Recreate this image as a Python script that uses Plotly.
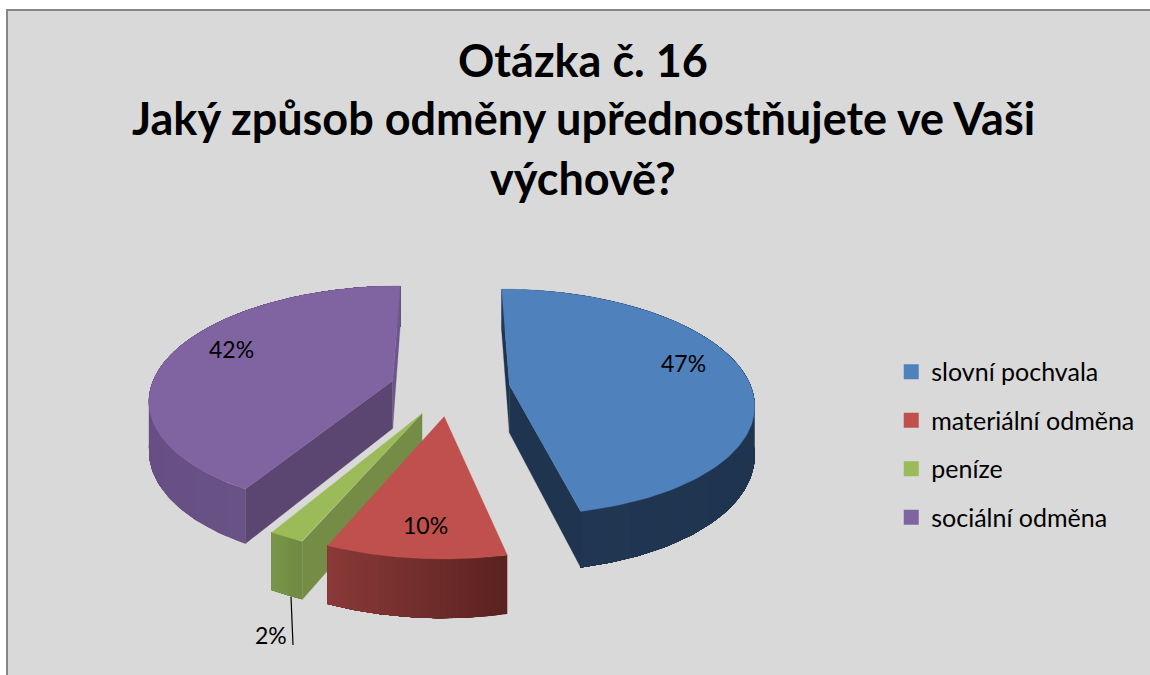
import numpy as np
import plotly.graph_objects as go

# ---- data ----
categories = ["slovní pochvala", "materiální odměna", "peníze", "sociální odměna"]
values = [47, 10, 2, 42]
labels = ["47%", "10%", "2%", "42%"]
title_lines = ["Otázka č. 16", "Jaký způsob odměny upřednostňujete ve Vaši", "výchově?"]

# ---- styles ----
top_colors = ["#4F81BD", "#C0504D", "#9BBB59", "#8064A2"]
rim_left = ["#26405F", "#8A3A38", "#7A9648", "#674F83"]
rim_right = ["#1F344F", "#5A2220", "#708A42", "#6C5889"]
rim_power = [0.22, 1.0, 1.0, 1.0]
wall_start = ["#1F344F", "#5A2220", "#748C46", "#5A4671"]
wall_end = ["#1F344F", "#5A2220", "#748C46", "#6D558C"]
BG = "#D9D9D9"
FONT = "Lato"

# projection of the tilted pie
XC, YC = 450.0, 388.0
R, EXPLODE, TILT, PERSP, DEPTH = 242.0, 60.0, 0.46, 1600.0, 48.0
label_xy = [(683, 363), (425, 525), (271, 635), (231, 349)]
leader = ((291, 597), (293, 645))


def project(X, Y, drop=0.0):
    X, Y = np.asarray(X, float), np.asarray(Y, float)
    s = PERSP / (PERSP + Y)
    return XC + X * s, YC - Y * TILT * s + drop * s


def hex_mix(a, b, t):
    ca = [int(a[i:i + 2], 16) for i in (1, 3, 5)]
    cb = [int(b[i:i + 2], 16) for i in (1, 3, 5)]
    return "rgb(%d,%d,%d)" % tuple(round(p + (q - p) * t) for p, q in zip(ca, cb))


def poly(fig, xs, ys, color, lw=0.3):
    fig.add_trace(go.Scatter(x=list(xs), y=list(ys), mode="lines", fill="toself",
                             fillcolor=color, line=dict(color=color, width=lw),
                             hoverinfo="skip", showlegend=False))


total = sum(values)
spans = []
a0 = 0.0
for v in values:
    spans.append((a0, a0 + v / total * 2 * np.pi))
    a0 += v / total * 2 * np.pi

fig = go.Figure()
for idx in [3, 0, 2, 1]:  # back to front
    t0, t1 = spans[idx]
    mid = (t0 + t1) / 2
    ox, oy = EXPLODE * np.sin(mid), EXPLODE * np.cos(mid)
    th = np.linspace(t0, t1, 121)
    Xr, Yr = ox + R * np.sin(th), oy + R * np.cos(th)
    tx, ty = project(Xr, Yr)
    bx, by = project(Xr, Yr, DEPTH)
    ax, ay = project(ox, oy)
    abx, aby = project(ox, oy, DEPTH)
    cx, cy = project(ox + 0.6 * R * np.sin(mid), oy + 0.6 * R * np.cos(mid))

    # radial cut walls, only those that face the viewer
    for k, col in ((0, wall_start[idx]), (-1, wall_end[idx])):
        ex, ey = tx[k] - ax, ty[k] - ay
        inner = ex * (cy - ay) - ey * (cx - ax)
        down = ex * DEPTH
        if inner * down < 0:
            poly(fig, [ax, tx[k], bx[k], abx, ax], [ay, ty[k], by[k], aby, ay], col)

    # outer rim, shaded across the screen; each band overlaps the rest of the rim
    xmin, xmax = tx.min(), tx.max()
    step = 4
    for i in range(0, len(th) - 1, step):
        j = min(i + step, len(th) - 1)
        f = (tx[i:j + 1].mean() - xmin) / max(xmax - xmin, 1)
        col = hex_mix(rim_left[idx], rim_right[idx], f ** rim_power[idx])
        xs = list(tx[i:]) + list(bx[i:][::-1]) + [tx[i]]
        ys = list(ty[i:]) + list(by[i:][::-1]) + [ty[i]]
        poly(fig, xs, ys, col, lw=0)

    # top face
    poly(fig, [ax] + list(tx) + [ax], [ay] + list(ty) + [ay], top_colors[idx])

# legend entries
for name, col in zip(categories, top_colors):
    fig.add_trace(go.Scatter(x=[None], y=[None], mode="markers", name=name, legendgroup=name,
                             marker=dict(symbol="square", size=15, color=col)))

annotations = []
for txt, yy in zip(title_lines, (60, 118, 178)):
    annotations.append(dict(x=583, y=yy, xref="x", yref="y", text=txt, showarrow=False,
                            font=dict(family=FONT, size=45, color="#000000", weight="bold")))
for txt, (lx, ly) in zip(labels, label_xy):
    annotations.append(dict(x=lx, y=ly, xref="x", yref="y", text=txt, showarrow=False,
                            font=dict(family=FONT, size=23, color="#000000")))

shapes = [
    dict(type="rect", xref="x", yref="y", x0=7, y0=10, x1=1160, y1=690, layer="below",
         fillcolor=BG, line=dict(color="#868686", width=2)),
    dict(type="line", xref="x", yref="y", x0=leader[0][0], y0=leader[0][1], x1=leader[1][0],
         y1=leader[1][1], line=dict(color="#000000", width=1.2)),
]

fig.update_layout(
    width=1150, height=675, margin=dict(l=0, r=0, t=0, b=0),
    paper_bgcolor="#FFFFFF", plot_bgcolor="rgba(0,0,0,0)",
    xaxis=dict(range=[0, 1150], visible=False, fixedrange=True),
    yaxis=dict(range=[675, 0], visible=False, fixedrange=True),
    font=dict(family=FONT, color="#000000"),
    legend=dict(x=0.775, y=0.483, xanchor="left", yanchor="top", bgcolor="rgba(0,0,0,0)",
                font=dict(family=FONT, size=25), tracegroupgap=13, itemwidth=30),
    annotations=annotations, shapes=shapes,
)
fig.write_html("out.html", config={"displayModeBar": False},
               post_script="document.body.style.margin='0';document.body.style.overflow='hidden';")
